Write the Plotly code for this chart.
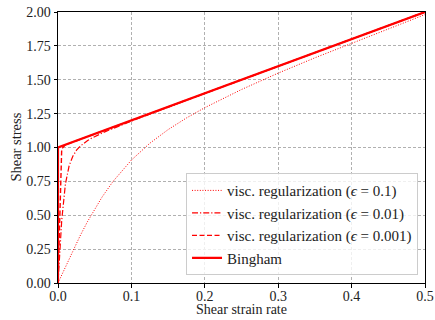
import plotly.graph_objects as go

# Values
gamma_e1 = [0, 0.01, 0.02, 0.03, 0.04, 0.05, 0.06, 0.075, 0.09, 0.1, 0.125, 0.15, 0.175, 0.2,
            0.25, 0.3, 0.35, 0.4, 0.45, 0.5]
tau_e1 = [0, 0.12, 0.236, 0.347, 0.451, 0.547, 0.634, 0.75, 0.849, 0.907, 1.031, 1.132, 1.218, 1.294,
          1.428, 1.549, 1.662, 1.77, 1.876, 1.981]

gamma_e2 = [0, 0.00505, 0.0101, 0.01515, 0.0202, 0.02525, 0.0303, 0.03535, 0.0404, 0.0455,
            0.0505, 0.0606, 0.0707, 0.0808, 0.101, 0.2, 0.3, 0.4, 0.5]
tau_e2 = [0, 0.461, 0.731, 0.865, 0.936, 0.98, 1.01, 1.032, 1.052, 1.068,
          1.082, 1.108, 1.131, 1.154, 1.197, 1.399, 1.599, 1.8, 2.0]

gamma_e3 = [0, 0.00505, 0.0101, 0.101, 0.5]
tau_e3 = [0, 0.990, 1.020, 1.202, 2.0]

gamma_b = [0, 0, 0.5]
tau_b = [0, 1, 2]

labels = ["visc. regularization (<i>ϵ</i> = 0.1)",
          "visc. regularization (<i>ϵ</i> = 0.01)",
          "visc. regularization (<i>ϵ</i> = 0.001)",
          "Bingham"]
x_title = "Shear strain rate"
y_title = "Shear stress"

FONT = "Liberation Serif"
fig = go.Figure()
fig.add_trace(go.Scatter(x=gamma_e1, y=tau_e1, mode="lines", name=labels[0],
                         line=dict(color="red", width=1, dash="1px,1.6px")))
fig.add_trace(go.Scatter(x=gamma_e2, y=tau_e2, mode="lines", name=labels[1],
                         line=dict(color="red", width=1.2, dash="6px,2px,1.2px,2px")))
fig.add_trace(go.Scatter(x=gamma_e3, y=tau_e3, mode="lines", name=labels[2],
                         line=dict(color="red", width=1.4, dash="5px,2.5px")))
fig.add_trace(go.Scatter(x=gamma_b, y=tau_b, mode="lines", name=labels[3],
                         line=dict(color="red", width=2.2)))

axis_common = dict(showline=True, linecolor="black", linewidth=1, mirror=True,
                   ticks="outside", ticklen=3.5, tickcolor="black", automargin=False,
                   showgrid=True, gridcolor="#b0b0b0", gridwidth=0.8, griddash="3px,2px",
                   zeroline=False, tickfont=dict(family=FONT, size=14, color="#222"))
fig.update_xaxes(range=[0, 0.5], tickvals=[0, 0.1, 0.2, 0.3, 0.4, 0.5],
                 ticktext=["0.0", "0.1", "0.2", "0.3", "0.4", "0.5"],
                 ticklabelstandoff=-3, **axis_common)
fig.update_yaxes(range=[0, 2], tickvals=[0, 0.25, 0.5, 0.75, 1.0, 1.25, 1.5, 1.75, 2.0],
                 ticktext=["0.00", "0.25", "0.50", "0.75", "1.00", "1.25", "1.50", "1.75", "2.00"],
                 **axis_common)
fig.add_annotation(text=x_title, xref="paper", yref="paper", x=0.5, y=-0.133,
                   xanchor="center", yanchor="bottom", showarrow=False,
                   font=dict(family=FONT, size=14, color="#222"))
fig.add_annotation(text=y_title, xref="paper", yref="paper", x=-0.117, y=0.5, textangle=-90,
                   xanchor="center", yanchor="middle", showarrow=False,
                   font=dict(family=FONT, size=14.5, color="#222"))
fig.update_layout(width=435, height=320, margin=dict(l=58, r=10, t=12, b=37),
                  plot_bgcolor="white", paper_bgcolor="white",
                  legend=dict(x=0.981, y=0.029, xanchor="right", yanchor="bottom",
                              bgcolor="rgba(255,255,255,0.8)", bordercolor="#cccccc", borderwidth=1,
                              font=dict(family=FONT, size=15, color="#222"), tracegroupgap=0,
                              itemwidth=30),
                  showlegend=True)
fig.write_html("out.html")
